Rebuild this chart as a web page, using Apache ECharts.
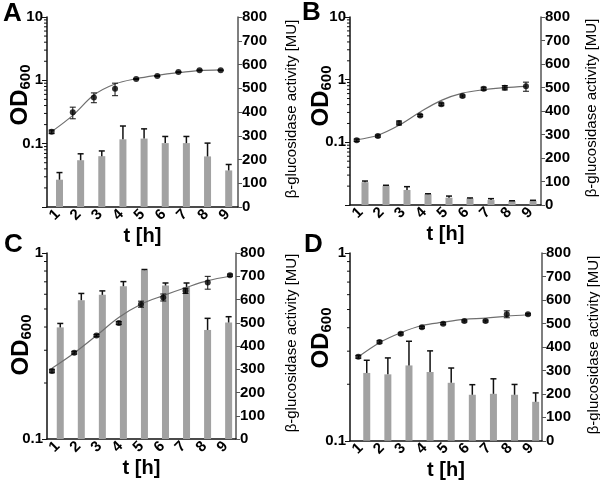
<!DOCTYPE html>
<html>
<head>
<meta charset="utf-8">
<script src="https://cdn.jsdelivr.net/npm/echarts@6/dist/echarts.min.js"></script>
<style>html,body{margin:0;padding:0;background:#fff}#c{width:600px;height:481px}</style>
</head>
<body>
<div id="c"></div>
<script>
// ---- data ----
const categories = ['1','2','3','4','5','6','7','8','9'];
const times = [1,2,3,4,5,6,7,8,9];

// Panel A
const odA     = [0.154, 0.312, 0.538, 0.737, 1.05, 1.17, 1.35, 1.44, 1.44];
const odErrA  = [0.01, 0.065, 0.095, 0.165, 0.02, 0.02, 0.02, 0.02, 0.02];
const fitA    = [0.155, 0.28, 0.586, 0.875, 1.06, 1.2, 1.32, 1.42, 1.46];
const actA    = [115, 197, 214, 285, 288, 269, 269, 213, 154];
const actErrA = [30, 27, 22, 56, 41, 28, 28, 56, 25];

// Panel B
const odB     = [0.108, 0.126, 0.204, 0.267, 0.404, 0.548, 0.718, 0.745, 0.783];
const odErrB  = [0.005, 0.005, 0.015, 0.01, 0.02, 0.02, 0.04, 0.06, 0.13];
const fitB    = [0.11, 0.13, 0.187, 0.305, 0.468, 0.61, 0.69, 0.745, 0.78];
const actB    = [97, 82, 64, 46, 31, 28, 21, 17, 18];
const actErrB = [5, 2, 14, 2, 7, 2, 6, 1, 2];

// Panel C
const odC     = [0.232, 0.291, 0.36, 0.42, 0.531, 0.577, 0.626, 0.694, 0.76];
const odErrC  = [0.005, 0.005, 0.005, 0.008, 0.02, 0.025, 0.02, 0.055, 0.01];
const fitC    = [0.24, 0.29, 0.36, 0.45, 0.53, 0.59, 0.65, 0.71, 0.75];
const actC    = [480, 597, 620, 657, 726, 660, 654, 469, 501];
const actErrC = [17, 29, 17, 20, 3, 11, 17, 50, 25];

// Panel D
const odD     = [0.28, 0.336, 0.371, 0.402, 0.42, 0.434, 0.434, 0.472, 0.472];
const odErrD  = [0.005, 0.005, 0.005, 0.005, 0.005, 0.005, 0.005, 0.02, 0.005];
const fitD    = [0.28, 0.333, 0.376, 0.411, 0.428, 0.443, 0.45, 0.461, 0.469];
const actD    = [289, 283, 321, 293, 247, 196, 200, 196, 166];
const actErrD = [54, 70, 103, 90, 63, 43, 64, 44, 38];

// tick values
const minorTicksWide = [0.02,0.03,0.04,0.05,0.06,0.07,0.08,0.09,0.2,0.3,0.4,0.5,0.6,0.7,0.8,0.9,2,3,4,5,6,7,8,9];
const minorTicksNarrow = [0.2,0.3,0.4,0.5,0.6,0.7,0.8,0.9];
const panelLetters = ['A','B','C','D'];
const xName = 't [h]';
const leftNameMain = 'OD';
const leftNameSub = '600';
const rightName = 'β-glucosidase activity [MU]';

// ---- layout / styling ----
const FONT = 'Liberation Sans, Arial, Helvetica, sans-serif';
const panelData = [
  {od: odA, odErr: odErrA, fit: fitA, act: actA, actErr: actErrA, minor: minorTicksWide, logMin: 0.01, logMax: 10},
  {od: odB, odErr: odErrB, fit: fitB, act: actB, actErr: actErrB, minor: minorTicksWide, logMin: 0.01, logMax: 10},
  {od: odC, odErr: odErrC, fit: fitC, act: actC, actErr: actErrC, minor: minorTicksNarrow, logMin: 0.1, logMax: 1},
  {od: odD, odErr: odErrD, fit: fitD, act: actD, actErr: actErrD, minor: minorTicksNarrow, logMin: 0.1, logMax: 1}
];
const layout = [
  {grid:{left:47, top:17, width:191, height:190}, barRange:[0.41, 9.44], ptRange:[0.78, 9.82], lTitle:[20,95], rTitle:[292,109], letter:[3,1]},
  {grid:{left:350, top:17, width:191, height:188}, barRange:[0.286, 9.38], ptRange:[0.683, 9.71], lTitle:[321,96], rTitle:[591.5,108], letter:[302,0]},
  {grid:{left:47, top:253, width:189, height:186}, barRange:[0.37, 9.35], ptRange:[0.776, 9.27], lTitle:[21,345], rTitle:[291.5,343], letter:[4,232]},
  {grid:{left:350, top:253, width:192, height:189}, barRange:[0.207, 9.30], ptRange:[0.608, 9.66], lTitle:[321,338], rTitle:[593.5,345], letter:[304,232]}
];

function pointErr(params, api) {
  const x = api.value(0), y = api.value(1), e = api.value(2);
  if (!e) return;
  const hi = api.coord([x, y + e]), lo = api.coord([x, y - e]);
  const w = 3, st = {stroke:'#111', lineWidth:1};
  return {type:'group', children:[
    {type:'line', shape:{x1:hi[0], y1:hi[1], x2:lo[0], y2:lo[1]}, style:st},
    {type:'line', shape:{x1:hi[0]-w, y1:hi[1], x2:hi[0]+w, y2:hi[1]}, style:st},
    {type:'line', shape:{x1:lo[0]-w, y1:lo[1], x2:lo[0]+w, y2:lo[1]}, style:st}
  ]};
}
function barErr(params, api) {
  const x = api.value(0), y = api.value(1), e = api.value(2);
  if (!e) return;
  const hi = api.coord([x, y + e]), lo = api.coord([x, y]);
  const w = 3, st = {stroke:'#111', lineWidth:1.5};
  return {type:'group', children:[
    {type:'line', shape:{x1:hi[0], y1:hi[1], x2:lo[0], y2:lo[1]}, style:st},
    {type:'line', shape:{x1:hi[0]-w, y1:hi[1], x2:hi[0]+w, y2:hi[1]}, style:st}
  ]};
}
function minorTick(params, api) {
  const p = api.coord([api.value(0), api.value(1)]);
  return {type:'line', shape:{x1:p[0]-3, y1:p[1], x2:p[0], y2:p[1]}, style:{stroke:'#111', lineWidth:1}};
}

const grids = [], xAxes = [], yAxes = [], series = [], graphics = [];
const labelStyle = {fontFamily: FONT, fontWeight: 'bold', fontSize: 15, color: '#000'};

panelData.forEach((pd, p) => {
  const L = layout[p];
  grids.push(L.grid);
  xAxes.push({
    type:'category', gridIndex:p, data:categories, boundaryGap:true,
    axisLine:{show:true, onZero:false, lineStyle:{color:'#111', width:1.5}},
    axisTick:{show:false},
    axisLabel:{rotate:45, margin:5, fontSize:15, fontFamily:FONT, fontWeight:'bold', color:'#000'},
    name:xName, nameLocation:'middle', nameGap:18,
    nameTextStyle:{fontFamily:FONT, fontWeight:'bold', fontSize:20, color:'#000'}
  });
  xAxes.push({type:'value', gridIndex:p, show:false, min:L.barRange[0], max:L.barRange[1]});
  xAxes.push({type:'value', gridIndex:p, show:false, min:L.ptRange[0], max:L.ptRange[1]});

  yAxes.push({
    type:'log', logBase:10, gridIndex:p, position:'left', min:pd.logMin, max:pd.logMax,
    axisLine:{show:true, lineStyle:{color:'#111', width:1.5}},
    axisTick:{show:true, length:5, lineStyle:{color:'#111'}},
    splitLine:{show:false},
    axisLabel:Object.assign({margin:4, formatter: v => (v < 0.05 ? '' : String(+(+v).toPrecision(3)))}, labelStyle)
  });
  yAxes.push({
    type:'value', gridIndex:p, position:'right', min:0, max:800, interval:100,
    axisLine:{show:true, lineStyle:{color:'#555', width:1.5}},
    axisTick:{show:true, length:4, lineStyle:{color:'#555'}},
    splitLine:{show:false},
    axisLabel:Object.assign({margin:4}, labelStyle)
  });

  const xb = 3*p+1, xp = 3*p+2, yl = 2*p, yr = 2*p+1;
  series.push({
    type:'bar', xAxisIndex:xb, yAxisIndex:yr, barWidth:7,
    itemStyle:{color:'#a2a2a2'}, z:2, silent:true,
    data: times.map((t,i) => [t, pd.act[i]])
  });
  series.push({
    type:'custom', xAxisIndex:xb, yAxisIndex:yr, renderItem:barErr, z:3, silent:true,
    data: times.map((t,i) => [t, pd.act[i], pd.actErr[i]])
  });
  series.push({
    type:'line', xAxisIndex:xp, yAxisIndex:yl, smooth:0.35, showSymbol:false, symbol:'none',
    lineStyle:{color:'#6f6f6f', width:1.2}, z:4, silent:true,
    data: times.map((t,i) => [t, pd.fit[i]])
  });
  series.push({
    type:'custom', xAxisIndex:xp, yAxisIndex:yl, renderItem:pointErr, z:5, silent:true,
    data: times.map((t,i) => [t, pd.od[i], pd.odErr[i]])
  });
  series.push({
    type:'scatter', xAxisIndex:xp, yAxisIndex:yl, symbol:'circle', symbolSize:6,
    itemStyle:{color:'#000'}, z:6, silent:true,
    data: times.map((t,i) => [t, pd.od[i]])
  });
  series.push({
    type:'custom', xAxisIndex:xp, yAxisIndex:yl, renderItem:minorTick, z:7, silent:true, clip:false,
    data: pd.minor.map(v => [L.ptRange[0], v])
  });
  graphics.push({
    type:'text', left:L.letter[0], top:L.letter[1],
    style:{text:panelLetters[p], font:'bold 26px ' + FONT, fill:'#000'}
  });
  graphics.push({
    type:'text', x:L.lTitle[0], y:L.lTitle[1], rotation:Math.PI/2,
    style:{
      text:'{a|' + leftNameMain + '}{b|' + leftNameSub + '}', align:'center', verticalAlign:'middle',
      rich:{
        a:{fontFamily:FONT, fontWeight:'bold', fontSize:24, fill:'#000'},
        b:{fontFamily:FONT, fontWeight:'bold', fontSize:15, fill:'#000', padding:[12,0,0,0]}
      }
    }
  });
  graphics.push({
    type:'text', x:L.rTitle[0], y:L.rTitle[1], rotation:Math.PI/2,
    style:{text:rightName, font:'15px ' + FONT, fill:'#000', align:'center', verticalAlign:'middle'}
  });
});

const chart = echarts.init(document.getElementById('c'), null, {renderer:'canvas'});
chart.setOption({
  animation:false,
  backgroundColor:'#fff',
  grid:grids, xAxis:xAxes, yAxis:yAxes, series:series, graphic:graphics
});
</script>
</body>
</html>
